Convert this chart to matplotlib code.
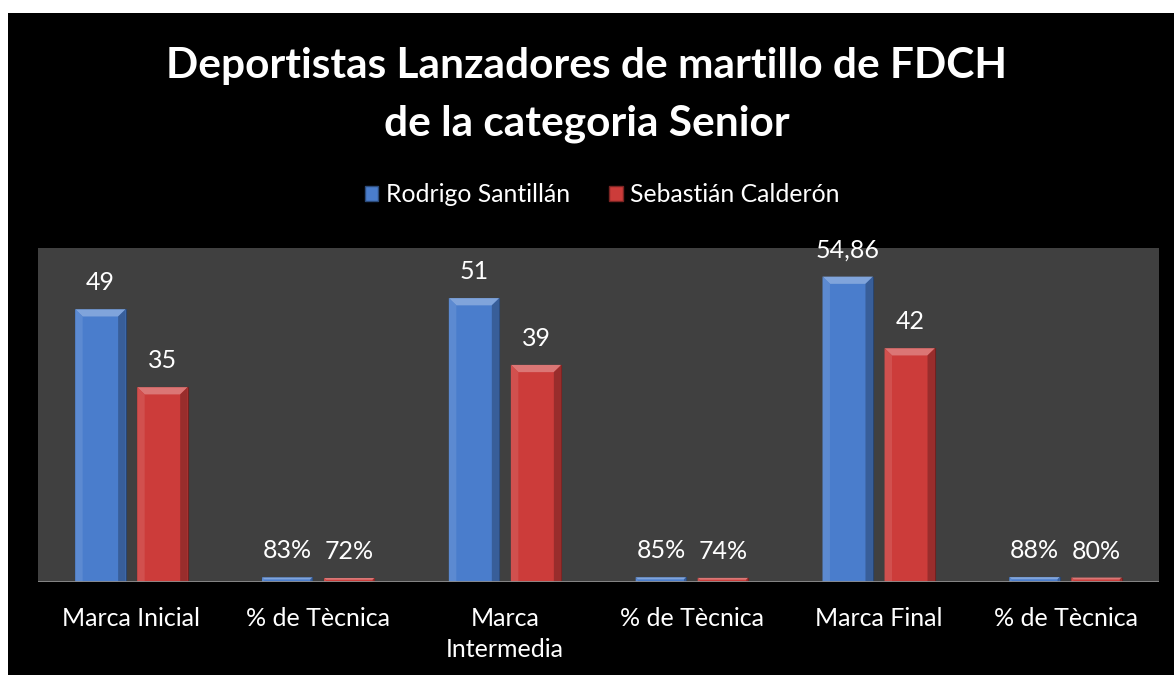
import numpy as np
import matplotlib.pyplot as plt
from matplotlib.patches import Polygon, Rectangle

categories = ["Marca Inicial", "% de Tècnica", "Marca\nIntermedia",
              "% de Tècnica", "Marca Final", "% de Tècnica"]
rodrigo = [49, 0.83, 51, 0.85, 54.86, 0.88]
sebastian = [35, 0.72, 39, 0.74, 42, 0.80]
series_names = ["Rodrigo Santillán", "Sebastián Calderón"]

BLUE = "#4a7dcc"
RED = "#cc3c3a"
FONT = "Lato"
LBL = 18

plt.rcParams["font.family"] = [FONT, "DejaVu Sans"]

fig = plt.figure(figsize=(11.74, 6.75), dpi=100, facecolor="white")
# black chart area with white margin on left and top
bg = Rectangle((8 / 1174, 0), 1 - 8 / 1174, 1 - 13 / 675,
               transform=fig.transFigure, facecolor="black",
               edgecolor="none", zorder=-10)
fig.add_artist(bg)

ax = fig.add_axes([38 / 1174, 93 / 675, 1121 / 1174, 334 / 675])
ax.set_facecolor("#404040")
ax.set_xlim(-0.5, 5.5)
ax.set_ylim(0, 60)

x = np.arange(len(categories))
w = 0.27
off = 0.166


def shade(c, f):
    c = np.array(plt.matplotlib.colors.to_rgb(c))
    if f > 0:
        return tuple(c + (1 - c) * f)
    return tuple(c * (1 + f))


def bevel_bar(xc, h, color):
    x0, x1 = xc - w / 2, xc + w / 2
    ax.bar(xc, h, width=w, color=color, edgecolor=shade(color, -0.45),
           linewidth=0.8, zorder=2)
    dy = min(1.3, h * 0.45)
    dx = 0.04 * dy / 1.3
    ax.add_patch(Polygon([(x0, h), (x1, h), (x1 - dx, h - dy), (x0 + dx, h - dy)],
                         closed=True, facecolor=shade(color, 0.3),
                         edgecolor="none", zorder=3))
    ax.add_patch(Polygon([(x0, h), (x0 + dx, h - dy), (x0 + dx, 0), (x0, 0)],
                         closed=True, facecolor=shade(color, 0.1),
                         edgecolor="none", zorder=3))
    ax.add_patch(Polygon([(x1, h), (x1 - dx, h - dy), (x1 - dx, 0), (x1, 0)],
                         closed=True, facecolor=shade(color, -0.25),
                         edgecolor="none", zorder=3))


def fmt(v):
    if v < 1:
        return f"{v * 100:.0f}%"
    return f"{v:g}".replace(".", ",")


for vals, color, sign in [(rodrigo, BLUE, -1), (sebastian, RED, 1)]:
    for xi, v in zip(x, vals):
        bevel_bar(xi + sign * off, v, color)
        ax.annotate(fmt(v), (xi + sign * off, v), xytext=(0, 19),
                    textcoords="offset points", ha="center", va="center",
                    color="white", fontsize=LBL)

ax.axhline(0, color="#8c8c8c", lw=2, zorder=4)
for s in ax.spines.values():
    s.set_visible(False)
ax.set_yticks([])
ax.set_xticks(x)
ax.set_xticklabels(categories, color="white", fontsize=LBL, linespacing=1.42)
ax.tick_params(axis="x", length=0, pad=18)

fig.text(0.5, 1 - 66 / 675, "Deportistas Lanzadores de martillo de FDCH",
         ha="center", va="center", color="white", fontsize=30.5, fontweight="bold")
fig.text(0.5, 1 - 124 / 675, "de la categoria Senior",
         ha="center", va="center", color="white", fontsize=30.5, fontweight="bold")

# legend
leg_y = 1 - 195 / 675
handles = [Rectangle((0, 0), 1, 1, facecolor=BLUE, edgecolor=shade(BLUE, -0.4)),
           Rectangle((0, 0), 1, 1, facecolor=RED, edgecolor=shade(RED, -0.4))]
fig.legend(handles, series_names, loc="center", bbox_to_anchor=(0.513, leg_y),
           ncol=2, frameon=False, fontsize=17.8, labelcolor="white",
           handlelength=0.55, handleheight=0.55, handletextpad=0.3,
           columnspacing=1.6)

fig.savefig("out.png", dpi=100, facecolor="white")
